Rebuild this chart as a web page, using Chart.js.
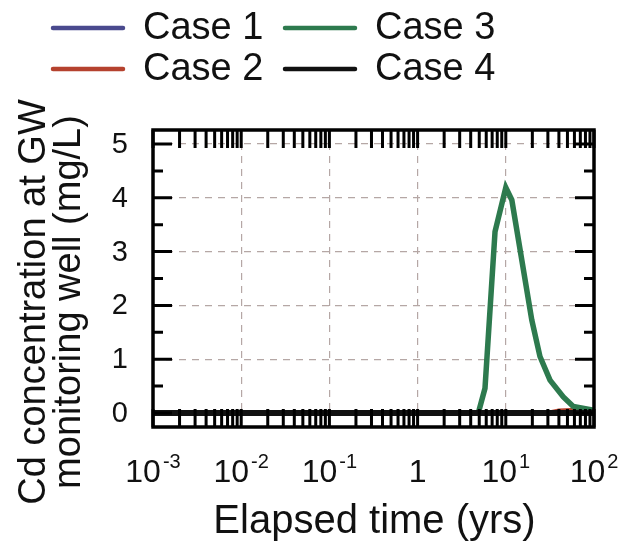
<!DOCTYPE html>
<html>
<head>
<meta charset="utf-8">
<script src="https://cdn.jsdelivr.net/npm/chart.js@4.4.0/dist/chart.umd.min.js"></script>
<style>
html, body { margin: 0; padding: 0; background: #fff; }
</style>
</head>
<body>
<canvas id="cdChart" width="621" height="546"></canvas>
<script>
var seriesNames = ['Case 1', 'Case 2', 'Case 3', 'Case 4'];
var seriesColors = ['#4a4a8e', '#b5422e', '#2d7a4e', '#111111'];

// elapsed time (yrs) and Cd concentration (mg/L) for each case
var case1Time = [0.001, 100];
var case1Conc = [0, 0];
var case2Time = [0.001, 30, 40, 55, 75, 100];
var case2Conc = [0, 0, 0.04, 0.05, 0.04, 0.02];
var case3Time = [0.001, 4.88, 5.81, 7.55, 10, 11.7, 19.7, 24.4, 31.7, 44.9, 58.2, 100];
var case3Conc = [0, 0, 0.46, 3.37, 4.19, 3.96, 1.73, 1.05, 0.61, 0.30, 0.12, 0.05];
var case4Time = [0.001, 100];
var case4Conc = [0, 0];

var xDecades = [0.001, 0.01, 0.1, 1, 10, 100];
var xTickBase = ['10', '10', '10', '1', '10', '10'];
var xTickExp = ['-3', '-2', '-1', '', '1', '2'];
var yTicks = [0, 1, 2, 3, 4, 5];

var FONT = '"Liberation Sans", Arial, sans-serif';
var gridColor = '#b5a7a5';

function points(times, vals) {
    return times.map(function(t, i) { return {x: t, y: vals[i]}; });
}

var allTimes = [case1Time, case2Time, case3Time, case4Time];
var allConc = [case1Conc, case2Conc, case3Conc, case4Conc];
// Case 4 (black) sits on top of the zero line
var drawOrder = [3, 2, 1, 0];
var lineWidths = [4.5, 4.5, 5.5, 6];

var datasets = seriesNames.map(function(name, i) {
    return {
        label: name,
        data: points(allTimes[i], allConc[i]),
        borderColor: seriesColors[i],
        backgroundColor: seriesColors[i],
        borderWidth: lineWidths[i],
        pointRadius: 0,
        tension: 0,
        fill: false,
        order: drawOrder[i]
    };
});

// frame, inward ticks, labels, titles and the 2x2 legend
var framePlugin = {
    id: 'framePlugin',
    afterDatasetsDraw: function(chart) {
        var ctx = chart.ctx, a = chart.chartArea;
        var x = chart.scales.x, y = chart.scales.y;
        ctx.save();
        ctx.strokeStyle = '#000';
        ctx.lineWidth = 3;
        ctx.beginPath();
        xDecades.forEach(function(d, i) {
            var stop = i < xDecades.length - 1 ? 9 : 1;
            for (var m = 1; m <= stop; m++) {
                var px = x.getPixelForValue(m * d);
                ctx.moveTo(px, a.top); ctx.lineTo(px, a.top + 18);
                ctx.moveTo(px, a.bottom); ctx.lineTo(px, a.bottom - 18);
            }
        });
        for (var v = 0; v <= 5; v += 0.5) {
            var py = y.getPixelForValue(v);
            var len = v % 1 === 0 ? 19 : 10;
            ctx.moveTo(a.left, py); ctx.lineTo(a.left + len, py);
            ctx.moveTo(a.right, py); ctx.lineTo(a.right - len, py);
        }
        ctx.stroke();
        ctx.lineWidth = 3.5;
        ctx.strokeRect(a.left, a.top, a.right - a.left, a.bottom - a.top);
        ctx.restore();
    },
    afterDraw: function(chart) {
        var ctx = chart.ctx, a = chart.chartArea;
        var x = chart.scales.x, y = chart.scales.y;
        ctx.save();
        ctx.fillStyle = '#111';

        // y tick labels
        ctx.font = '29px ' + FONT;
        ctx.textAlign = 'right';
        ctx.textBaseline = 'middle';
        yTicks.forEach(function(v) {
            ctx.fillText(String(v), a.left - 25, y.getPixelForValue(v) + 1);
        });

        // x tick labels with superscript exponents
        ctx.textAlign = 'left';
        ctx.textBaseline = 'alphabetic';
        xDecades.forEach(function(d, i) {
            var px = x.getPixelForValue(d);
            ctx.font = '32px ' + FONT;
            var wb = ctx.measureText(xTickBase[i]).width;
            ctx.font = '20px ' + FONT;
            var we = xTickExp[i] ? ctx.measureText(xTickExp[i]).width + 2 : 0;
            var start = px - (wb + we) / 2;
            ctx.font = '32px ' + FONT;
            ctx.fillText(xTickBase[i], start, 482);
            if (xTickExp[i]) {
                ctx.font = '20px ' + FONT;
                ctx.fillText(xTickExp[i], start + wb + 2, 468);
            }
        });

        // x title
        ctx.font = '40px ' + FONT;
        ctx.textAlign = 'center';
        ctx.fillText('Elapsed time (yrs)', (a.left + a.right) / 2 + 1, 533);

        // y title, two lines
        ctx.font = '38px ' + FONT;
        [['Cd concentration at GW', 45], ['monitoring well (mg/L)', 80]].forEach(function(l) {
            ctx.save();
            ctx.translate(l[1], 302);
            ctx.rotate(-Math.PI / 2);
            ctx.fillText(l[0], 0, 0);
            ctx.restore();
        });

        // legend: Case 1 / Case 3 on top row, Case 2 / Case 4 below
        var colX = [53, 285], rowY = [28, 69];
        ctx.font = '38px ' + FONT;
        ctx.textAlign = 'left';
        ctx.textBaseline = 'middle';
        ctx.lineCap = 'round';
        ctx.lineWidth = 4.5;
        chart.data.datasets.forEach(function(ds, i) {
            var cx = colX[Math.floor(i / 2)], cy = rowY[i % 2];
            ctx.strokeStyle = ds.borderColor;
            ctx.beginPath();
            ctx.moveTo(cx, cy); ctx.lineTo(cx + 70, cy);
            ctx.stroke();
            ctx.fillText(ds.label, cx + 90, cy + 1);
        });
        ctx.restore();
    }
};

var cdChart = new Chart(document.getElementById('cdChart').getContext('2d'), {
    type: 'line',
    data: { datasets: datasets },
    options: {
        responsive: false,
        animation: false,
        devicePixelRatio: 1,
        layout: { padding: { left: 153, right: 27, top: 130, bottom: 119 } },
        scales: {
            x: {
                type: 'logarithmic',
                min: 0.001,
                max: 100,
                afterBuildTicks: function(axis) {
                    axis.ticks = xDecades.map(function(v) { return {value: v}; });
                },
                ticks: { display: false },
                grid: { color: gridColor, lineWidth: 1.2, drawTicks: false },
                border: { display: false, dash: [7, 6] }
            },
            y: {
                type: 'linear',
                min: -0.26,
                max: 5.26,
                afterBuildTicks: function(axis) {
                    axis.ticks = yTicks.map(function(v) { return {value: v}; });
                },
                ticks: { display: false },
                grid: { color: gridColor, lineWidth: 1.2, drawTicks: false },
                border: { display: false, dash: [7, 6] }
            }
        },
        plugins: {
            legend: { display: false },
            tooltip: { enabled: false }
        }
    },
    plugins: [framePlugin]
});
</script>
</body>
</html>
